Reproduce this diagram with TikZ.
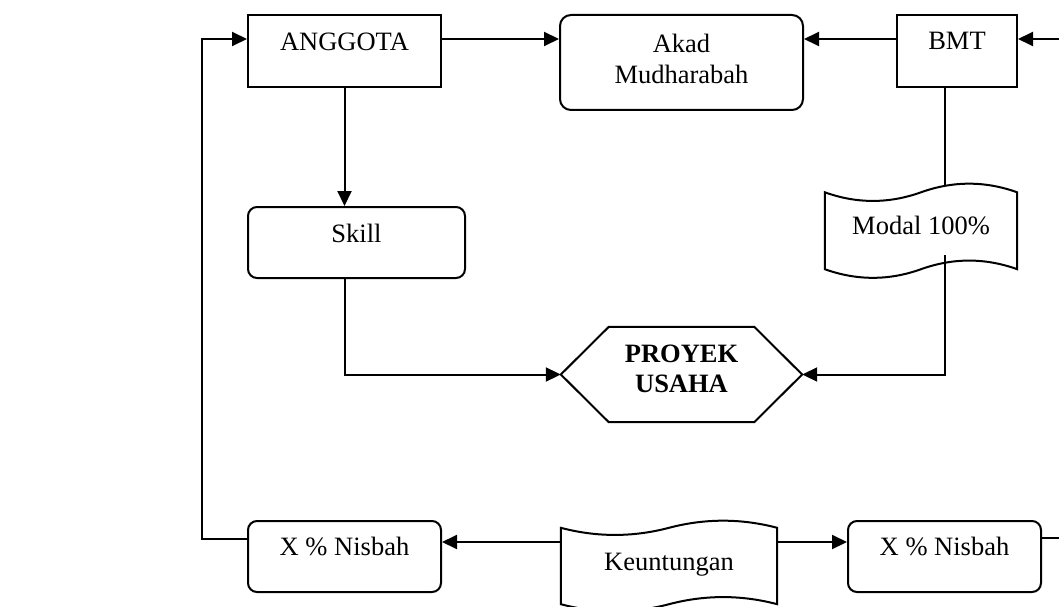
\documentclass[tikz,border=0pt]{standalone}
\usepackage{fontspec}
\setmainfont{Liberation Serif}
\usetikzlibrary{arrows.meta,calc}

\tikzset{
  line/.style={line width=2pt},
  arr/.style={line, -{Triangle[length=15pt,width=14pt]}},
  box/.style={draw, line width=2pt, fill=white, rectangle, inner sep=0pt},
  rbox/.style={box, rounded corners=9pt},
  frame/.style={rectangle, inner sep=0pt},
  lbl/.style={inner sep=0pt, text height=17.7pt, text depth=0pt},
  lbltwo/.style={inner sep=0pt, align=center},
}

% punched-tape outline around a named node: #1 node, #2 wave height
\newcommand{\tapeoutline}[2]{%
  \path[draw, fill=white, line width=2pt]
    let \p1=(#1.north west), \p2=(#1.south east), \n1={\x2-\x1} in
    (\x1,\y1) .. controls ({\x1+\n1/6},{\y1-#2}) and ({\x1+\n1/3},{\y1-#2}) .. ({\x1+\n1/2},\y1)
              .. controls ({\x1+2*\n1/3},{\y1+#2}) and ({\x1+5*\n1/6},{\y1+#2}) .. (\x2,\y1)
    -- (\x2,\y2)
              .. controls ({\x1+5*\n1/6},{\y2+#2}) and ({\x1+2*\n1/3},{\y2+#2}) .. ({\x1+\n1/2},\y2)
              .. controls ({\x1+\n1/3},{\y2-#2}) and ({\x1+\n1/6},{\y2-#2}) .. (\x1,\y2)
    -- cycle;}

\begin{document}
\begin{tikzpicture}[x=1pt, y=-1pt, font=\fontsize{26.5pt}{31pt}\selectfont]
\useasboundingbox (0,0) rectangle (1059,607);

% top row
\node[box, minimum width=193pt, minimum height=72pt,
      label={[lbl,yshift=9.5pt]center:ANGGOTA}] (anggota) at (344.5,51) {};
\node[rbox, rounded corners=11pt, minimum width=243pt, minimum height=95pt,
      label={[lbltwo,yshift=3.5pt]center:{Akad\\Mudharabah}}] (akad) at (681.5,62.5) {};
\node[box, minimum width=120pt, minimum height=72pt,
      label={[lbl,yshift=10pt]center:BMT}] (bmt) at (957,51) {};

% middle row
\node[rbox, minimum width=217pt, minimum height=71pt,
      label={[lbl,yshift=8.5pt]center:Skill}] (skill) at (356.5,242.5) {};
\node[frame, minimum width=192pt, minimum height=76.5pt] (modal) at (921,230.75) {};
\tapeoutline{modal}{11.5pt}
\node[lbl] (modaltext) at ([yshift=5.5pt]modal.center) {Modal 100\%};

% hexagon
\node[frame, minimum width=241pt, minimum height=95pt] (proyek) at (681.5,374.5) {};
\draw[line, fill=white]
  (proyek.west) -- ([xshift=48pt]proyek.north west) -- ([xshift=-48pt]proyek.north east)
  -- (proyek.east) -- ([xshift=-48pt]proyek.south east) -- ([xshift=48pt]proyek.south west) -- cycle;
\node[lbltwo, font=\fontsize{26.5pt}{30pt}\selectfont\bfseries] (proyektext)
  at ([yshift=6pt]proyek.center) {PROYEK\\USAHA};

% bottom row
\node[rbox, minimum width=193pt, minimum height=71pt,
      label={[lbl,yshift=10pt]center:X \% Nisbah}] (nisbahL) at (344.5,556.5) {};
\node[frame, minimum width=216pt, minimum height=76pt] (keun) at (669,566) {};
\tapeoutline{keun}{9.5pt}
\node[lbl] (keuntext) at ([yshift=4.5pt]keun.center) {Keuntungan};
\node[rbox, minimum width=193pt, minimum height=71pt,
      label={[lbl,yshift=10pt]center:X \% Nisbah}] (nisbahR) at (944.5,556.5) {};

% helper points for the connector routes
\coordinate (loopT) at (202,39);
\coordinate (loopB) at (202,539);
\coordinate (edgeT) at (1059,39);
\coordinate (edgeB) at (1059,538);
\coordinate (bx) at (945,0);

% connectors
\draw[arr] ([yshift=12pt]anggota.east) -- ([yshift=12pt]anggota.east -| akad.west);
\draw[arr] ([yshift=12pt]bmt.west) -- ([yshift=12pt]bmt.west -| akad.east);
\draw[arr] (edgeT) -- (edgeT -| bmt.east);
\draw[arr] (loopB -| nisbahL.west) -- (loopB) -- (loopT) -- (loopT -| anggota.west);
\draw[arr] (anggota.south) -- (anggota.south |- skill.north);
\draw[arr] (skill.south -| anggota.south) -- (anggota.south |- proyek.west) -- (proyek.west);
\draw[line] (bmt.south -| bx) -- ([yshift=7pt]modal.north -| bx);
\draw[arr] ([yshift=-24.25pt]modal.center -| bx) -- (bx |- proyek.east) -- (proyek.east);
\draw[arr] ([yshift=24pt]keun.west) -- ([yshift=24pt]keun.west -| nisbahL.east);
\draw[arr] ([yshift=24pt]keun.east) -- ([yshift=24pt]keun.east -| nisbahR.west);
\draw[line] (edgeB -| nisbahR.east) -- (edgeB);
\end{tikzpicture}
\end{document}
